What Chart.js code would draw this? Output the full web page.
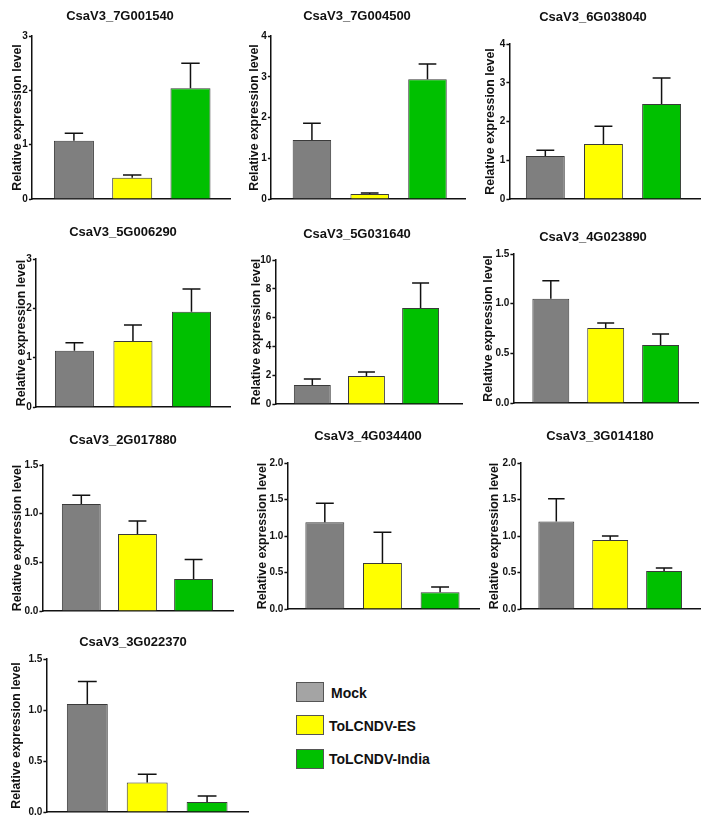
<!DOCTYPE html>
<html>
<head>
<meta charset="utf-8">
<script src="https://cdn.jsdelivr.net/npm/chart.js@4"></script>
<style>
  body { margin: 0; background: #fff; }
  #page { position: relative; width: 711px; height: 820px; overflow: hidden; font-family: "Liberation Sans", Arial, sans-serif; }
  #page canvas { position: absolute; }
  .sw { position: absolute; left: 296px; width: 26px; height: 18px; border: 1px solid #555; }
  .lt { position: absolute; font-weight: bold; font-size: 14px; color: #111; line-height: 16px; }
</style>
</head>
<body>
<div id="page">
  <div class="sw" style="top:682px;background:#a4a4a4"></div>
  <div class="lt" style="left:331px;top:685px">Mock</div>
  <div class="sw" style="top:715px;background:#ffff00"></div>
  <div class="lt" style="left:329px;top:718px">ToLCNDV-ES</div>
  <div class="sw" style="top:749px;background:#00c000"></div>
  <div class="lt" style="left:329px;top:751px">ToLCNDV-India</div>
</div>
<script>
// genes, one small chart each
const genes = ['CsaV3_7G001540', 'CsaV3_7G004500', 'CsaV3_6G038040', 'CsaV3_5G006290', 'CsaV3_5G031640',
               'CsaV3_4G023890', 'CsaV3_2G017880', 'CsaV3_4G034400', 'CsaV3_3G014180', 'CsaV3_3G022370'];
const groups = ['Mock', 'ToLCNDV-ES', 'ToLCNDV-India'];

// mean relative expression + upper error (SEM)
const mock     = [1.07, 1.45, 1.11, 1.14, 1.32, 1.05, 1.10, 1.19, 1.20, 1.06];
const mockErr  = [0.14, 0.41, 0.15, 0.16, 0.42, 0.18, 0.09, 0.26, 0.31, 0.22];
const es       = [0.39, 0.12, 1.42, 1.34, 1.94, 0.755, 0.79, 0.63, 0.945, 0.29];
const esErr    = [0.05, 0.03, 0.46, 0.32, 0.28, 0.05, 0.135, 0.42, 0.055, 0.08];
const india    = [2.04, 2.94, 2.45, 1.93, 6.67, 0.584, 0.33, 0.23, 0.52, 0.098];
const indiaErr = [0.46, 0.37, 0.67, 0.46, 1.73, 0.11, 0.20, 0.07, 0.04, 0.06];

// y axis range / tick step per chart
const yMax  = [3, 4, 4, 3, 10, 1.5, 1.5, 2, 2, 1.5];
const yStep = [1, 1, 1, 1, 2, 0.5, 0.5, 0.5, 0.5, 0.5];

const colors = ['#7f7f7f', '#ffff00', '#00c000'];

// placement on the page: axisX, topY, zeroY, endX, labelGap, titleX, titleY, firstBarX, lastBarX, barW
const panels = [
  [32, 36, 199, 230, 14.5, 120, 16, 74, 190.5, 40],
  [271, 36, 199, 465, 16.5, 357, 16, 312, 427.5, 38.5],
  [509, 44, 199, 700, 19, 593, 17, 545, 661.5, 39],
  [36, 259, 407, 230, 14.5, 123, 232, 74.5, 191.5, 39],
  [275, 260, 404, 462, 19, 357, 234, 312, 420.5, 37],
  [513, 254, 403, 698, 25, 593, 237, 550.5, 660.5, 37],
  [42, 465, 611, 233, 25, 123, 440, 81, 193.5, 39],
  [287, 463, 609, 479, 25, 368, 436, 324.5, 440, 39],
  [520, 463, 609, 700, 26, 600, 436, 556, 664, 36],
  [46, 659, 812, 248, 30, 133, 642, 87, 207, 41]
];

const FONT = '"Liberation Sans", Arial, sans-serif';

// up-only error bars
const errorBars = {
  id: 'errorBars',
  afterDatasetsDraw(chart, args, opts) {
    const ctx = chart.ctx;
    const meta = chart.getDatasetMeta(0);
    const ys = chart.scales.y;
    ctx.save();
    ctx.strokeStyle = '#111';
    ctx.lineWidth = 1.5;
    meta.data.forEach((bar, i) => {
      const top = ys.getPixelForValue(opts.means[i] + opts.errs[i]);
      const cap = bar.width * 0.23;
      ctx.beginPath();
      ctx.moveTo(bar.x, bar.y);
      ctx.lineTo(bar.x, top);
      ctx.moveTo(bar.x - cap, top);
      ctx.lineTo(bar.x + cap, top);
      ctx.stroke();
    });
    ctx.restore();
  }
};

// chart heading drawn at a fixed spot
const heading = {
  id: 'heading',
  afterDraw(chart, args, opts) {
    const ctx = chart.ctx;
    ctx.save();
    ctx.font = 'bold 13px ' + FONT;
    ctx.fillStyle = '#111';
    ctx.textAlign = 'center';
    ctx.textBaseline = 'middle';
    ctx.fillText(opts.text, opts.x, opts.y);
    ctx.restore();
  }
};

const page = document.getElementById('page');

genes.forEach((gene, k) => {
  const [axisX, topY, zeroY, endX, gap, tx, ty, c0, c2, barW] = panels[k];
  const yW = gap + 7.4;
  const left = Math.round(axisX - yW);
  const top = Math.round(Math.min(ty - 12, topY - 10));
  const w = Math.round(endX + 3 - left);
  const h = Math.round(zeroY + 10 - top);

  const canvas = document.createElement('canvas');
  canvas.width = w;
  canvas.height = h;
  canvas.style.left = left + 'px';
  canvas.style.top = top + 'px';
  page.appendChild(canvas);

  const unit = (c2 - c0) / 2;
  const means = [mock[k], es[k], india[k]];
  const errs = [mockErr[k], esErr[k], indiaErr[k]];

  new Chart(canvas.getContext('2d'), {
    type: 'bar',
    data: {
      datasets: [{
        label: gene,
        data: groups.map((g, i) => ({ x: i, y: means[i] })),
        backgroundColor: colors,
        borderColor: '#3a3a3a',
        borderWidth: 1,
        barPercentage: barW / unit,
        categoryPercentage: 1
      }]
    },
    options: {
      responsive: false,
      animation: false,
      events: [],
      layout: { padding: { top: topY - top, bottom: 10, left: 0, right: 3 } },
      plugins: {
        legend: { display: false },
        tooltip: { enabled: false },
        errorBars: { means: means, errs: errs },
        heading: { text: gene, x: tx - left, y: ty - top }
      },
      scales: {
        x: {
          type: 'linear',
          offset: false,
          min: -(c0 - axisX) / unit,
          max: 2 + (endX - c2) / unit,
          afterBuildTicks: s => { s.ticks = groups.map((g, i) => ({ value: i })); },
          afterFit: s => { s.height = 0; },
          ticks: { display: false },
          grid: { display: false, drawTicks: false },
          border: { display: true, color: '#111', width: 1.5 }
        },
        y: {
          min: 0,
          max: yMax[k],
          afterFit: s => { s.width = yW; },
          ticks: {
            stepSize: yStep[k],
            padding: 1,
            color: '#111',
            font: { family: FONT, size: 10, weight: 'bold' },
            callback: v => yStep[k] < 1 ? v.toFixed(1) : String(v)
          },
          grid: { drawOnChartArea: false, drawTicks: true, tickLength: 3, tickWidth: 1.5, tickColor: '#111' },
          border: { display: true, color: '#111', width: 1.5 },
          title: {
            display: true,
            text: 'Relative expression level',
            color: '#111',
            padding: 0,
            font: { family: FONT, size: 12.3, weight: 'bold' }
          }
        }
      }
    },
    plugins: [errorBars, heading]
  });
});
</script>
</body>
</html>
